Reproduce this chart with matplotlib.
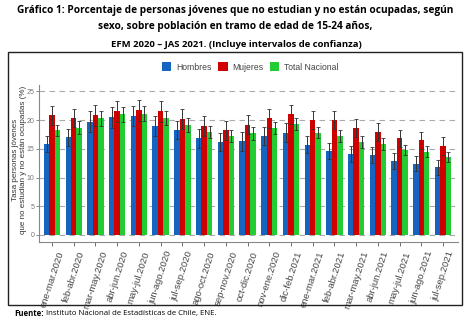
import matplotlib
matplotlib.use('Agg')
import matplotlib.pyplot as plt
from matplotlib.patches import Rectangle
import numpy as np

# periods (trimestres moviles)
periodos = ['ene-mar.2020', 'feb-abr.2020', 'mar-may.2020', 'abr-jun.2020', 'may-jul.2020',
            'jun-ago.2020', 'jul-sep.2020', 'ago-oct.2020', 'sep-nov.2020', 'oct-dic.2020',
            'nov-ene.2020', 'dic-feb.2021', 'ene-mar.2021', 'feb-abr.2021', 'mar-may.2021',
            'abr-jun.2021', 'may-jul.2021', 'jun-ago.2021', 'jul-sep.2021']

# tasas (%)
hombres = [15.8, 17.0, 19.7, 20.5, 20.7, 19.0, 18.3, 16.8, 16.2, 16.3,
           17.2, 17.8, 15.7, 14.6, 14.1, 13.9, 12.9, 12.4, 11.8]
mujeres = [20.8, 20.4, 20.8, 21.5, 21.7, 21.5, 20.2, 19.0, 18.2, 19.2,
           20.3, 21.0, 20.0, 20.0, 18.6, 17.9, 16.8, 16.5, 15.5]
total = [18.2, 18.7, 20.3, 21.0, 21.1, 20.3, 19.2, 17.9, 17.2, 17.7,
         18.6, 19.3, 17.8, 17.2, 16.2, 15.8, 14.8, 14.5, 13.6]

# intervalos de confianza (+/-)
err_h = [1.4, 1.5, 1.8, 1.8, 1.8, 1.7, 1.6, 1.6, 1.6, 1.6, 1.6, 1.6, 1.5, 1.4, 1.4, 1.4, 1.4, 1.3, 1.3]
err_m = [1.6, 1.6, 1.8, 1.8, 1.8, 1.8, 1.7, 1.7, 1.7, 1.7, 1.7, 1.7, 1.6, 1.6, 1.6, 1.6, 1.5, 1.5, 1.5]
err_t = [1.0, 1.1, 1.3, 1.3, 1.3, 1.2, 1.2, 1.1, 1.1, 1.1, 1.1, 1.1, 1.0, 1.0, 1.0, 1.0, 0.9, 0.9, 0.9]

c_h = '#1565c0'
c_m = '#d00000'
c_t = '#22cc33'

W, H = 474, 327
fig = plt.figure(figsize=(W / 100, H / 100), dpi=100)

def fx(px):
    return px / W

def fy(py):
    return 1 - py / H

# titulo
tfont = dict(family='Open Sans', weight='bold', fontsize=7.3, ha='center', va='center')
fig.text(fx(235), fy(10), 'Gráfico 1: Porcentaje de personas jóvenes que no estudian y no están ocupadas, según', **tfont)
fig.text(fx(235), fy(27), 'sexo, sobre población en tramo de edad de 15-24 años,', **tfont)
fig.text(fx(236), fy(44), 'EFM 2020 – JAS 2021. (Incluye intervalos de confianza)', **{**tfont, 'fontsize': 6.8})

# marco del grafico
fig.patches.append(Rectangle((fx(8), fy(305)), fx(462) - fx(8), fy(52) - fy(305),
                             transform=fig.transFigure, fill=False, ec='#222222', lw=1.0))

# axes
ax = fig.add_axes([fx(39), fy(241.7), fx(458) - fx(39), fy(85) - fy(241.7)])
x = np.arange(len(periodos))
w = 0.25
ekw = dict(elinewidth=0.7, capthick=0.6, ecolor='#333333')
ax.bar(x - w, hombres, w, color=c_h, yerr=err_h, capsize=1.2, error_kw=ekw, label='Hombres', zorder=3)
ax.bar(x, mujeres, w, color=c_m, yerr=err_m, capsize=1.2, error_kw=ekw, label='Mujeres', zorder=3)
ax.bar(x + w, total, w, color=c_t, yerr=err_t, capsize=1.2, error_kw=ekw, label='Total Nacional', zorder=3)

ax.set_xlim(-0.6, 18.69)
ax.set_ylim(-1.17, 26.1)
ax.set_yticks([0, 5, 10, 15, 20, 25])
ax.yaxis.grid(True, ls=(0, (5, 4)), color='#aaaaaa', lw=0.8, zorder=0)
ax.set_xticks(x)
ax.set_xticklabels(periodos, rotation=72, ha='center', va='top',
                   fontsize=6.8, color='#444444', family='Liberation Sans')
ax.tick_params(axis='y', labelsize=5, colors='#777777', length=2, width=0.6, pad=1.5)
ax.tick_params(axis='x', length=3, width=0.6, color='#555555', pad=3)
for lab in ax.get_yticklabels():
    lab.set_family('Liberation Sans')
for s in ['top', 'right']:
    ax.spines[s].set_visible(False)
for s in ['left', 'bottom']:
    ax.spines[s].set_color('#888888')
    ax.spines[s].set_linewidth(0.8)
ax.set_ylabel('Tasa personas jóvenes\nque no estudian y no están ocupadas (%)',
              fontsize=5.8, family='Liberation Sans', color='#333333', linespacing=1.15)
ax.yaxis.set_label_coords(-(39 - 27) / (458 - 39), 0.52)

leg = fig.legend(loc='center', bbox_to_anchor=(fx(250), fy(67)), ncol=3, frameon=False,
                 prop={'family': 'Liberation Sans', 'size': 6.2}, handlelength=1.1, handleheight=1.1,
                 handletextpad=0.5, columnspacing=0.8)
for t in leg.get_texts():
    t.set_color('#444444')

# fuente
r = fig.canvas.get_renderer()
t1 = fig.text(fx(14), fy(313), 'Fuente:', family='Open Sans', weight='bold', fontsize=5.6, va='center')
bb = t1.get_window_extent(r)
fig.text(bb.x1 / W + 0.004, fy(313), 'Instituto Nacional de Estadísticas de Chile, ENE.',
         family='Open Sans', fontsize=5.6, va='center')

fig.savefig('out.png', dpi=100)
